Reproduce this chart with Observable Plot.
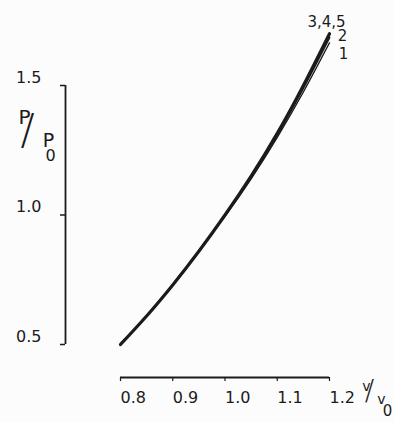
<!DOCTYPE html>
<html>
<head>
<meta charset="utf-8">
<script src="https://cdn.jsdelivr.net/npm/d3@7"></script>
<script src="https://cdn.jsdelivr.net/npm/@observablehq/plot@0.6"></script>
<style>
  html, body { margin: 0; padding: 0; background: #fcfcfc; }
  svg { display: block; }
</style>
</head>
<body>
<div id="chart"></div>
<script>
// ---- data ----
const vRatio = [0.80, 0.85, 0.90, 0.95, 1.00, 1.05, 1.10, 1.15, 1.20];
const curve345 = [0.50, 0.61, 0.73, 0.86, 1.00, 1.15, 1.315, 1.50, 1.70];
const curve2   = [0.50, 0.61, 0.73, 0.86, 1.00, 1.145, 1.31, 1.49, 1.685];
const curve1   = [0.50, 0.61, 0.73, 0.86, 0.995, 1.14, 1.30, 1.475, 1.665];
const seriesNames = ["3,4,5", "2", "1"];
const xTicks = [0.8, 0.9, 1.0, 1.1, 1.2];
const yTicks = [0.5, 1.0, 1.5];
const xTickLabels = ["0.8", "0.9", "1.0", "1.1", "1.2"];
const yTickLabels = ["0.5", "1.0", "1.5"];

const allSeries = [curve345, curve2, curve1];
const rows = allSeries.flatMap((vals, i) =>
  vals.map((p, j) => ({ v: vRatio[j], p, s: seriesNames[i] })));
const byName = n => rows.filter(r => r.s === n);
const endOf = n => byName(n).slice(-1);

const font = "'DejaVu Sans', sans-serif";
const ink = "#1b1b1b";
const T = (str, o) => Plot.text([str], { text: d => d, textAnchor: "middle", lineAnchor: "middle", fill: ink, ...o });

const chart = Plot.plot({
  width: 394,
  height: 422,
  marginLeft: 120,
  marginRight: 65,
  marginTop: 85,
  marginBottom: 78,
  x: { domain: [0.8, 1.2], axis: null },
  y: { domain: [0.5, 1.5], axis: null },
  style: { background: "#fcfcfc", fontFamily: font, color: ink },
  marks: [
    // y axis (offset to the left)
    Plot.ruleX([0.8], { y1: 0.5, y2: 1.5, dx: -55, stroke: ink, strokeWidth: 1.8 }),
    Plot.axisY({ ticks: yTicks, tickSize: 5, tickFormat: () => "", label: null, dx: -55, stroke: ink, strokeWidth: 1.5 }),
    Plot.text(yTicks, { y: d => d, text: (d, i) => yTickLabels[i], frameAnchor: "left",
      textAnchor: "end", lineAnchor: "middle", dx: -79, dy: -8, fontSize: 16, fill: ink }),
    // x axis (offset below)
    Plot.ruleY([0.5], { dy: 33, stroke: ink, strokeWidth: 1.8 }),
    Plot.axisX({ ticks: xTicks, tickSize: 4, tickFormat: () => "", label: null, anchor: "bottom", dy: 33, stroke: ink, strokeWidth: 1.2 }),
    Plot.text(xTicks, { x: d => d, text: (d, i) => xTickLabels[i], frameAnchor: "bottom",
      textAnchor: "start", lineAnchor: "middle", dy: 53, fontSize: 16, fill: ink }),
    // y title P/P0
    T("P", { frameAnchor: "top-left", dx: -96, dy: 32, fontSize: 20 }),
    T("/", { frameAnchor: "top-left", dx: -93, dy: 45, fontSize: 42, fontWeight: 200 }),
    T("P", { frameAnchor: "top-left", dx: -72, dy: 55, fontSize: 19 }),
    T("0", { frameAnchor: "top-left", dx: -70, dy: 70, fontSize: 16 }),
    // x title V/V0
    T("v", { frameAnchor: "bottom-right", dx: 37, dy: 42, fontSize: 14 }),
    T("/", { frameAnchor: "bottom-right", dx: 40, dy: 47, fontSize: 28, fontWeight: 200 }),
    T("v", { frameAnchor: "bottom-right", dx: 52, dy: 55, fontSize: 14 }),
    T("0", { frameAnchor: "bottom-right", dx: 58, dy: 67, fontSize: 15 }),
    // curves
    Plot.line(byName("3,4,5"), { x: "v", y: "p", curve: "natural", stroke: ink, strokeWidth: 3.2 }),
    Plot.line(byName("2"), { x: "v", y: "p", curve: "natural", stroke: ink, strokeWidth: 1.8 }),
    Plot.line(byName("1"), { x: "v", y: "p", curve: "natural", stroke: ink, strokeWidth: 1.4 }),
    // series labels
    Plot.text(endOf("3,4,5"), { x: "v", y: "p", text: "s", dx: -3, dy: -12, fontSize: 15, fill: ink }),
    Plot.text(endOf("2"), { x: "v", y: "p", text: "s", dx: 13, dy: -1, fontSize: 15, fill: ink }),
    Plot.text(endOf("1"), { x: "v", y: "p", text: "s", dx: 14, dy: 11, fontSize: 15, fill: ink })
  ]
});
document.getElementById("chart").appendChild(chart);
</script>
</body>
</html>
